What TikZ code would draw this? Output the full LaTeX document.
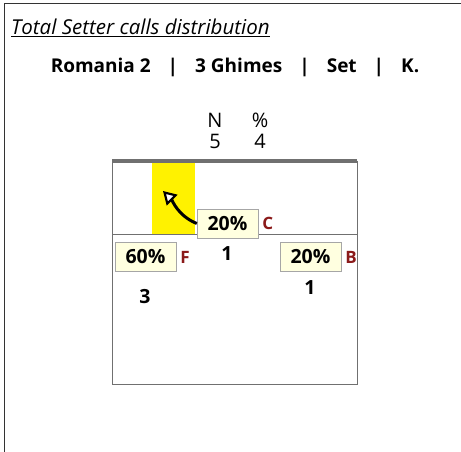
\documentclass[tikz,border=0pt]{standalone}
\usepackage{fontspec}
\setmainfont{Open Sans}
\usepackage{xcolor}
\usepackage{tikz}
\usetikzlibrary{positioning,arrows.meta}
\definecolor{Cream}{HTML}{FFFFE0}
\definecolor{ZoneRed}{HTML}{8B1A1A}
\definecolor{CourtGray}{HTML}{707070}
\newcommand{\sepbar}{\hspace{17pt}|\hspace{17pt}}

\begin{document}
\begin{tikzpicture}[x=1pt, y=-1pt,
  pct/.style={draw=black!35, fill=Cream, minimum width=61pt, minimum height=29pt, inner sep=0pt, font=\bfseries\fontsize{19.5}{19.5}\selectfont},
  zone/.style={text=ZoneRed, font=\bfseries\fontsize{17}{17}\selectfont, inner sep=0pt},
  count/.style={font=\bfseries\fontsize{19.5}{19.5}\selectfont, inner sep=0pt},
  head/.style={font=\fontsize{20}{20}\selectfont, inner sep=0pt}]
\useasboundingbox (0,0) rectangle (461,452);
\fill[white] (0,0) rectangle (461,452);
% frame
\draw[black!80, line width=1pt] (4,452) -- (4,4) -- (461,4);
% titles
\node[anchor=west, inner sep=0pt, font=\itshape\fontsize{20.5}{20.5}\selectfont] (title) at (11,28) {\underline{Total Setter calls distribution}};
\node[inner sep=0pt, font=\bfseries\fontsize{19}{19}\selectfont] (match) at (235,67) {Romania 2\sepbar 3 Ghimes\sepbar Set\sepbar K.};
\node[head] (hN) at (215,120) {N};
\node[head] (hP) at (260,120) {\%};
\node[head] (vN) at (215,141) {5};
\node[head] (vP) at (260,141) {4};
% court
\fill[yellow] (152,161) rectangle (195,234);
\draw[CourtGray, line width=1pt] (112,161) rectangle (357,384);
\draw[CourtGray, line width=3.5pt] (112,161) -- (357,161);
\draw[CourtGray, line width=1pt] (112,234) -- (357,234);
% zones
\coordinate (tip) at (163,191);
\node[pct] (pC) at (227.5,223.5) {20\%};
\node[zone, right=4pt of pC] (zC) {C};
\node[count] (nC) at (227,254) {1};
\draw[line width=3pt, -{Triangle[open, fill=white, length=13pt, width=15pt, line width=2.2pt]}]
  (pC.west) .. controls (178,216) and (172,200) .. (tip);
\node[pct] (pF) at (145.5,257) {60\%};
\node[zone, right=4pt of pF] (zF) {F};
\node[count] (nF) at (145,297) {3};
\node[pct] (pB) at (310.5,257) {20\%};
\node[zone, right=4pt of pB] (zB) {B};
\node[count] (nB) at (310,288) {1};
\end{tikzpicture}
\end{document}
